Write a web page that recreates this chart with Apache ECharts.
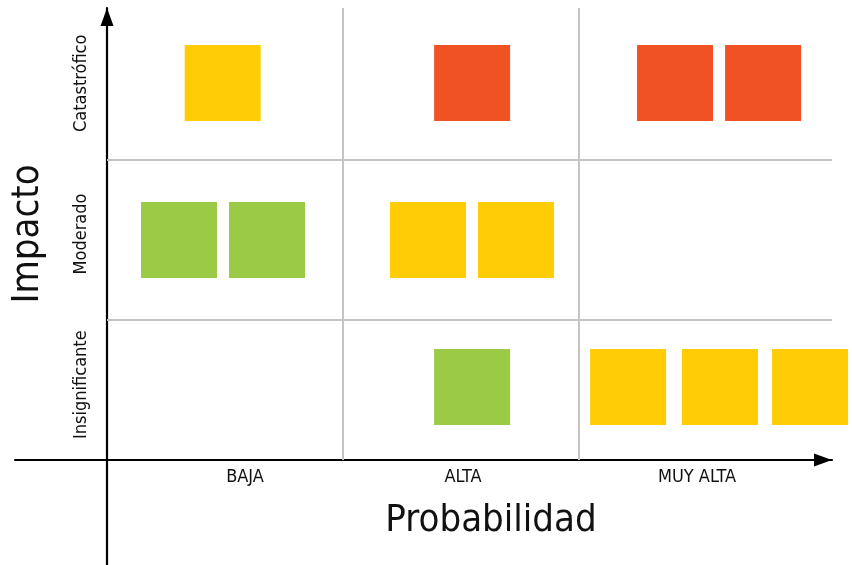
<!DOCTYPE html>
<html>
<head>
<meta charset="utf-8">
<script src="https://cdn.jsdelivr.net/npm/echarts@6/dist/echarts.min.js"></script>
<style>
html,body{margin:0;padding:0;background:#fff;}
#chart{width:852px;height:565px;}
</style>
</head>
<body>
<div id="chart"></div>
<script>
// Categories
const probabilidad = ['BAJA', 'ALTA', 'MUY ALTA'];
const impacto = ['Insignificante', 'Moderado', 'Catastrófico'];

// Risk squares: x = probability position, y = impact position, nivel = risk level
const riesgoX = [0.49, 1.547, 2.407, 2.78, 0.305, 0.678, 1.36, 1.733, 1.547, 2.208, 2.597, 2.979];
const riesgoY = [2.356, 2.356, 2.356, 2.356, 1.375, 1.375, 1.375, 1.375, 0.456, 0.456, 0.456, 0.456];
const riesgoNivel = ['medio', 'alto', 'alto', 'alto', 'bajo', 'bajo', 'medio', 'medio', 'bajo', 'medio', 'medio', 'medio'];

// Cell boundaries
const limitesProb = [1, 2];
const limitesImpacto = [0.875, 1.875];

// Axis extents
const xMin = -0.39, xMax = 3.072;
const yMin = -0.656, yMax = 2.825;

const colores = { bajo: '#9BCA47', medio: '#FFCC05', alto: '#F05224' };
const FONT = "'Liberation Sans Narrow', 'DejaVu Sans Condensed', sans-serif";
const labelShift = [40, 4, 0];

const puntos = riesgoX.map((x, i) => ({
  value: [x, riesgoY[i]],
  itemStyle: { color: colores[riesgoNivel[i]], opacity: 1 }
}));

const lineas = [];
limitesProb.forEach(v => lineas.push([{ coord: [v, 0] }, { coord: [v, yMax] }]));
limitesImpacto.forEach(v => lineas.push([{ coord: [0, v] }, { coord: [xMax, v] }]));

const arrowLine = {
  onZero: true, symbol: ['none', 'triangle'], symbolSize: [13, 18], symbolOffset: [0, -9],
  lineStyle: { color: '#000', width: 2.2 }
};

const chart = echarts.init(document.getElementById('chart'));
chart.setOption({
  animation: false,
  backgroundColor: '#fff',
  grid: [
    { left: 15, right: 20, top: 8, bottom: 0 },
    { left: 107, right: 37, top: 8, bottom: 105 }
  ],
  xAxis: [
    {
      type: 'value', gridIndex: 0, min: xMin, max: xMax,
      axisLine: arrowLine,
      axisTick: { show: false }, axisLabel: { show: false }, splitLine: { show: false }
    },
    {
      type: 'category', gridIndex: 1,
      data: probabilidad.map((p, i) => ({ value: p, textStyle: { padding: [0, 0, 0, labelShift[i]] } })),
      axisLine: { show: false }, axisTick: { show: false },
      axisLabel: { margin: 8, fontSize: 18, color: '#111', fontFamily: FONT },
      name: 'Probabilidad', nameLocation: 'middle', nameGap: 42,
      nameTextStyle: { fontSize: 38, color: '#111', fontFamily: FONT, padding: [0, 0, 0, 60] }
    }
  ],
  yAxis: [
    {
      type: 'value', gridIndex: 0, min: yMin, max: yMax,
      axisLine: arrowLine,
      axisTick: { show: false }, axisLabel: { show: false }, splitLine: { show: false }
    },
    {
      type: 'category', gridIndex: 1, data: impacto,
      axisLine: { show: false }, axisTick: { show: false },
      axisLabel: { rotate: 90, margin: 17, fontSize: 18, color: '#111', fontFamily: FONT },
      name: 'Impacto', nameLocation: 'middle', nameGap: 60, nameRotate: 90,
      nameTextStyle: { fontSize: 38, color: '#111', fontFamily: FONT }
    }
  ],
  series: [
    {
      type: 'scatter', xAxisIndex: 0, yAxisIndex: 0,
      symbol: 'rect', symbolSize: 76, clip: false, silent: true,
      itemStyle: { opacity: 1 },
      data: puntos,
      markLine: {
        silent: true, symbol: 'none', label: { show: false },
        lineStyle: { color: '#C4C4C4', width: 2, type: 'solid' },
        data: lineas
      },
      z: 3
    }
  ]
});
</script>
</body>
</html>
